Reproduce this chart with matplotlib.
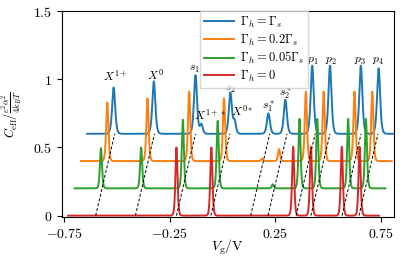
import numpy as np
import matplotlib
matplotlib.use('Agg')
import matplotlib.pyplot as plt

plt.rcParams['mathtext.fontset'] = 'cm'
plt.rcParams['font.family'] = 'serif'
plt.rcParams['font.serif'] = ['DejaVu Serif']

# peak positions (V) in the frame of the Gamma_h = 0 curve
peak_names = ['X1+', 'X0', 's1', 'X1+*', 's2', 'X0*', 's1*', 's2*', 'p1', 'p2', 'p3', 'p4']
peak_pos = [-0.605, -0.415, -0.218, -0.19, -0.053, -0.033, 0.127, 0.207, 0.334, 0.418, 0.564, 0.648]

# peak heights for each curve (above its own baseline)
h_full = [0.34, 0.385, 0.43, 0.07, 0.30, 0.09, 0.15, 0.25, 0.50, 0.50, 0.50, 0.48]
h_02 = [0.43, 0.46, 0.51, 0.0, 0.46, 0.0, 0.017, 0.088, 0.51, 0.51, 0.51, 0.51]
h_005 = [0.295, 0.30, 0.505, 0.0, 0.495, 0.0, 0.0, 0.03, 0.51, 0.51, 0.51, 0.51]
h_0 = [0.0, 0.0, 0.50, 0.0, 0.50, 0.0, 0.0, 0.0, 0.505, 0.505, 0.505, 0.505]

curve_labels = [r'$\Gamma_h=\Gamma_s$', r'$\Gamma_h=0.2\Gamma_s$',
                r'$\Gamma_h=0.05\Gamma_s$', r'$\Gamma_h=0$']
curve_heights = [h_full, h_02, h_005, h_0]
curve_widths = [0.0095, 0.007, 0.0065, 0.0065]
curve_colors = ['tab:blue', 'tab:orange', 'tab:green', 'tab:red']
curve_step = [3, 2, 1, 0]   # offset index

dx, dy = 0.03, 0.2
v_range = (-0.73, 0.74)

# dashed guide lines (peaks that are tracked)
guide_pos = [-0.600, -0.412, -0.218, -0.055, 0.133, 0.215, 0.348, 0.418, 0.565, 0.645]

# peak annotations (plotted coords)
ann_text = [r'$X^{1+}$', r'$X^{0}$', r'$s_1$', r'$X^{1+*}$', r'$s_2$', r'$X^{0*}$',
            r'$s_1^*$', r'$s_2^*$', r'$p_1$', r'$p_2$', r'$p_3$', r'$p_4$']
ann_x = [-0.507, -0.317, -0.134, -0.058, 0.037, 0.092, 0.22, 0.30, 0.428, 0.511, 0.652, 0.736]
ann_y = [1.02, 1.03, 1.08, 0.74, 0.935, 0.765, 0.80, 0.90, 1.14, 1.14, 1.14, 1.14]

fig = plt.figure(figsize=(4.15, 2.58), dpi=100)
ax = fig.add_axes([0.149, 0.159, 0.80, 0.798])

v = np.linspace(v_range[0], v_range[1], 3000)
for lab, hs, w, col, k in zip(curve_labels, curve_heights, curve_widths, curve_colors, curve_step):
    c = np.zeros_like(v)
    for p, h in zip(peak_pos, hs):
        if h > 0:
            ww = w if h > 0.12 else w * 0.9
            c += h / np.cosh((v - p) / ww) ** 2
    ax.plot(v + k * dx, c + k * dy, color=col, lw=1.4, label=lab, zorder=2)

for g in guide_pos:
    ax.plot([g, g + 3 * dx], [0, 3 * dy], 'k--', lw=0.7, dashes=(3, 2), zorder=3)

for t, x, y in zip(ann_text, ann_x, ann_y):
    ax.text(x, y, t, fontsize=8.5, ha='center', va='center')

ax.set_xlim(-0.76, 0.81)
ax.set_ylim(-0.01, 1.5)
ax.set_xticks([-0.75, -0.25, 0.25, 0.75])
ax.set_xticklabels([r'$-0.75$', r'$-0.25$', r'$0.25$', r'$0.75$'])
ax.set_yticks([0, 0.5, 1, 1.5])
ax.set_yticklabels([r'$0$', r'$0.5$', r'$1$', r'$1.5$'])
ax.tick_params(labelsize=10, length=3.5, width=0.8)
ax.set_xlabel(r'$V_{\rm g}/{\rm V}$', fontsize=10)
ax.xaxis.set_label_coords(0.5, -0.10)
ax.set_ylabel(r'$C_{\rm eff}/\frac{e^2\alpha^2}{4k_BT}$', fontsize=9)
ax.yaxis.set_label_coords(-0.11, 0.5)

ax.legend(loc='upper left', bbox_to_anchor=(0.416, 1.0), borderaxespad=0,
          fontsize=9, handlelength=2.4, labelspacing=0.2, borderpad=0.3,
          handletextpad=0.5, framealpha=0.8, fancybox=False)

fig.savefig('out.png', dpi=100)
